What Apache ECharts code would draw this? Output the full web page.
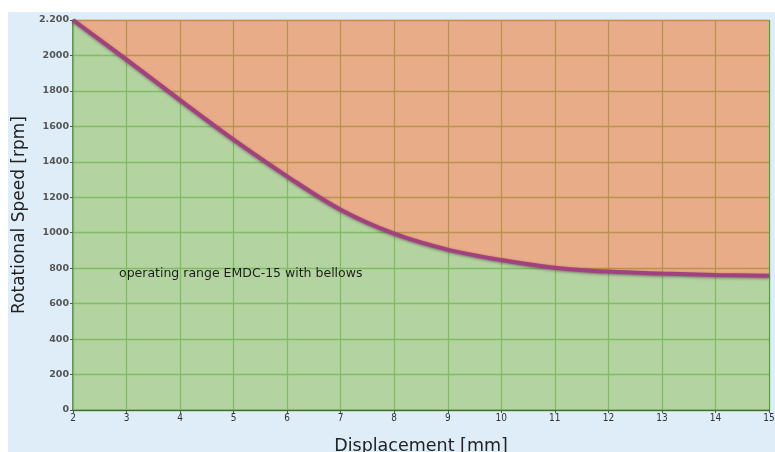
<!DOCTYPE html>
<html><head><meta charset="utf-8">
<script src="https://cdn.jsdelivr.net/npm/echarts@6/dist/echarts.min.js"></script>
<style>html,body{margin:0;padding:0;background:#fff}#c{width:775px;height:452px}</style>
</head><body><div id="c"></div>
<script>
const displacement = [2, 3, 4, 5, 6, 7, 8, 9, 10, 11, 12, 13, 14, 15];
const speed = [2200, 1976, 1748, 1525, 1318, 1130, 995, 905, 846, 803, 781, 770, 762, 758];
const xTicks = [2, 3, 4, 5, 6, 7, 8, 9, 10, 11, 12, 13, 14, 15];
const yTickLabels = {2200: '2.200'};
const annotation = 'operating range EMDC-15 with bellows';

const pts = displacement.map((x, i) => [x, speed[i]]);
const chart = echarts.init(document.getElementById('c'));
chart.setOption({
  animation: false,
  backgroundColor: '#fff',
  graphic: [
    {type: 'rect', left: 8, top: 12, shape: {width: 767, height: 440}, style: {fill: '#deedf8'}, z: -10},
    {type: 'text', left: 119, top: 267, style: {text: annotation, font: '12.5px "DejaVu Sans"', fill: '#1e1e1e'}, z: 100}
  ],
  grid: {left: 73, right: 6, top: 20, bottom: 42, show: true, backgroundColor: '#fff', borderWidth: 0,
    containLabel: false, outerBoundsMode: 'none'},
  xAxis: {
    type: 'value', min: 2, max: 15, interval: 1,
    name: 'Displacement [mm]', nameLocation: 'middle', nameGap: 27,
    nameTextStyle: {fontFamily: 'DejaVu Sans', fontSize: 17.5, color: '#222'},
    axisLine: {lineStyle: {color: '#3f5a35', width: 1.5}},
    axisTick: {show: true, length: 3, lineStyle: {color: '#555'}},
    axisLabel: {fontFamily: 'DejaVu Sans Condensed', fontSize: 10, color: '#333', margin: 3,
      formatter: v => xTicks.includes(v) ? String(v) : ''},
    splitLine: {show: true, lineStyle: {color: '#48a82a', width: 1.3}}
  },
  yAxis: {
    type: 'value', min: 0, max: 2200, interval: 200,
    name: 'Rotational Speed [rpm]', nameLocation: 'middle', nameGap: 40,
    nameTextStyle: {fontFamily: 'DejaVu Sans', fontSize: 17, color: '#222'},
    axisLine: {show: true, lineStyle: {color: '#3f7a30', width: 1.5}},
    axisTick: {show: true, length: 3, lineStyle: {color: '#555'}},
    axisLabel: {fontFamily: 'DejaVu Sans', fontSize: 9.5, fontWeight: 'bold', color: '#555', margin: 4,
      formatter: v => yTickLabels[v] || String(v)},
    splitLine: {show: true, lineStyle: {color: '#48a82a', width: 1.3}}
  },
  series: [
    {type: 'line', data: pts, smooth: 0.35, symbol: 'none', silent: true,
      lineStyle: {width: 0}, areaStyle: {origin: 'end', color: 'rgb(224,140,90)', opacity: 0.72}, z: 2},
    {type: 'line', data: pts, smooth: 0.35, symbol: 'none', silent: true,
      lineStyle: {width: 0}, areaStyle: {origin: 'start', color: 'rgb(150,196,124)', opacity: 0.72}, z: 2},
    {type: 'line', data: pts, smooth: 0.35, symbol: 'none', silent: true,
      lineStyle: {width: 4, color: '#a3407f', shadowColor: 'rgba(40,0,30,0.45)', shadowBlur: 3, shadowOffsetY: 1}, z: 5}
  ]
});
</script></body></html>
